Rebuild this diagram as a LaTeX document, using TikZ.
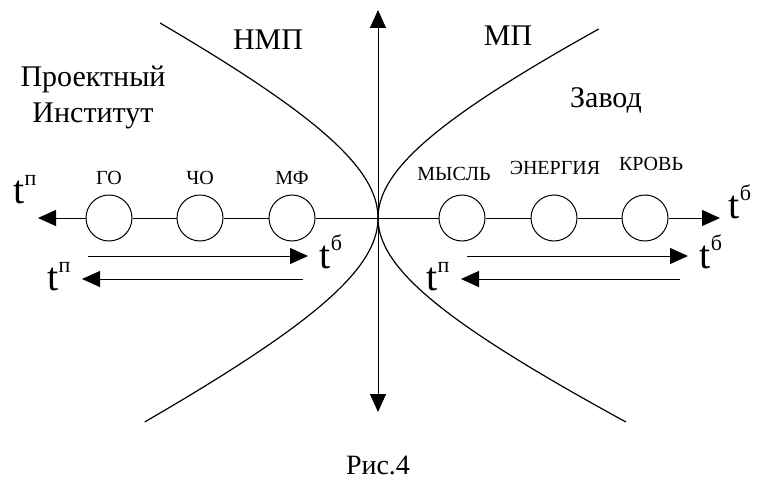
\documentclass[tikz,border=0pt]{standalone}
\usepackage{fontspec}
\setmainfont{Liberation Serif}
\usetikzlibrary{arrows.meta, positioning}
\newcommand{\enlarge}[2]{\scalebox{#1}{#2}}
\newcommand{\tsup}[1]{t\raisebox{0.95ex}{\scalebox{0.55}{#1}}}

\begin{document}
\begin{tikzpicture}[x=1pt, y=-1pt, every node/.style={inner sep=0pt, font=\rmfamily\fontsize{10}{12}\selectfont}]
      \tikzset{
        stage/.style={circle, draw, fill=white, line width=1pt, minimum size=46pt},
        tlab/.style={anchor=base},
        arr/.style={-{Triangle[length=18pt, width=16pt]}, line width=1pt},
        curve/.style={line width=1.2pt}
      }
      \useasboundingbox (0,0) rectangle (757,484);

      % Axes
      \coordinate (o) at (378,218);
      \coordinate (top) at (378,10);
      \coordinate (bot) at (378,412);
      \coordinate (lend) at (38,218);
      \coordinate (rend) at (720,218);
      \draw[arr] (o) -- (top);
      \draw[arr] (o) -- (bot);

      % Boundaries
      \draw[curve] plot[domain=-195:204, samples=90] ({378-240*(sqrt(1+(\x/120)^2)-1)}, {218+\x});
      \draw[curve] plot[domain=-189:204, samples=90] ({378+255*(sqrt(1+(\x/120)^2)-1)}, {218+\x});

      % Stages
      \node[stage] (go) at (109,218) {};
      \node[stage] (cho) at (200,218) {};
      \node[stage] (mf) at (292,218) {};
      \node[stage] (mysl) at (462,218) {};
      \node[stage] (energ) at (554,218) {};
      \node[stage] (krov) at (645,218) {};

      \node (go-l) at (109,178) {\enlarge{2}{ГО}};
      \node (cho-l) at (200,178) {\enlarge{2}{ЧО}};
      \node (mf-l) at (292,178) {\enlarge{2}{МФ}};
      \node (mysl-l) at (454,174) {\enlarge{2}{МЫСЛЬ}};
      \node (energ-l) at (555,168) {\enlarge{2}{ЭНЕРГИЯ}};
      \node (krov-l) at (651,164) {\enlarge{2}{КРОВЬ}};

      % Zones
      \node (nmp) at (268,40) {\enlarge{3}{НМП}};
      \node (mp) at (508,36) {\enlarge{3}{МП}};
      \node (inst) at (93,97) {\enlarge{3}{\begin{tabular}{@{}c@{}}Проектный\\Институт\end{tabular}}};
      \node (zavod) at (606,100) {\enlarge{3}{Завод}};

      % Connections
      \draw[line width=1pt] (o) -- (mf) -- (cho) -- (go);
      \draw[arr] (go) -- (lend);
      \draw[line width=1pt] (o) -- (mysl) -- (energ) -- (krov);
      \draw[arr] (krov) -- (rend);

      % Time directions
      \coordinate (a1) at (88,256);
      \coordinate (a2) at (308,256);
      \coordinate (b1) at (303,279);
      \coordinate (b2) at (82,279);
      \coordinate (c1) at (467,256);
      \coordinate (c2) at (688,256);
      \coordinate (d1) at (680,279);
      \coordinate (d2) at (461,279);
      \draw[arr] (a1) -- (a2);
      \draw[arr] (b1) -- (b2);
      \draw[arr] (c1) -- (c2);
      \draw[arr] (d1) -- (d2);

      \node[tlab] (tp1) at (25,203) {\enlarge{4}{\tsup{п}}};
      \node[tlab] (tb1) at (740,218) {\enlarge{4}{\tsup{б}}};
      \node[tlab] (tb2) at (331,268) {\enlarge{4}{\tsup{б}}};
      \node[tlab] (tp2) at (59,290) {\enlarge{4}{\tsup{п}}};
      \node[tlab] (tp3) at (438,290) {\enlarge{4}{\tsup{п}}};
      \node[tlab] (tb3) at (711,268) {\enlarge{4}{\tsup{б}}};

      \node (cap) at (378,465) {\enlarge{2.8}{Рис.4}};

    \end{tikzpicture}
\end{document}
